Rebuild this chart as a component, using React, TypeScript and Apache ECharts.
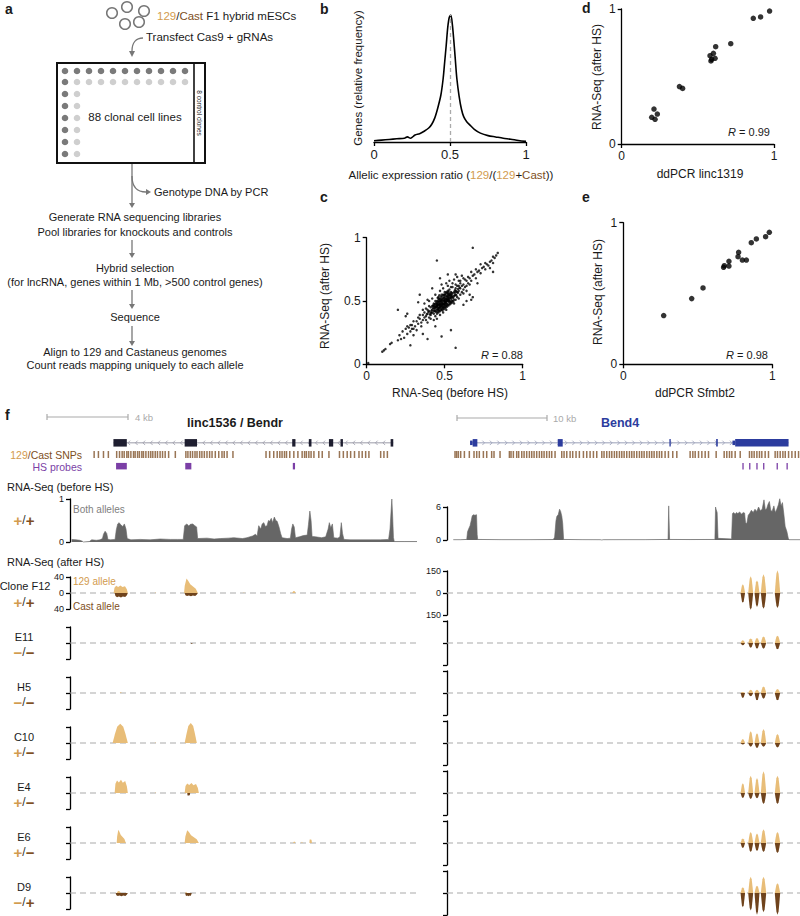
import React, { useEffect, useRef } from 'react';
import * as echarts from 'echarts';

const FONT = '"Liberation Sans", Arial, Helvetica, sans-serif';
const INK = '#1a1a1a';
const TAN = '#D29B4E';
const TAN_FILL = '#E8BD78';
const BROWN = '#7E4E22';
const BROWN_FILL = '#6F431C';
const PURPLE = '#7B3FA6';
const BLUE = '#2C3C9E';
const GREY = '#666666';
const ARROW = '#777777';

// ---------- panel b: allelic ratio density ----------
const densityCurve = [
  [0, 0.01], [0.05, 0.015], [0.1, 0.02], [0.15, 0.025], [0.2, 0.03], [0.22, 0.04], [0.24, 0.03],
  [0.27, 0.055], [0.3, 0.065], [0.33, 0.085], [0.36, 0.11], [0.38, 0.14], [0.4, 0.19], [0.42, 0.27],
  [0.44, 0.37], [0.455, 0.5], [0.465, 0.63], [0.475, 0.76], [0.485, 0.9], [0.495, 0.98], [0.505, 1.0],
  [0.515, 0.93], [0.525, 0.8], [0.535, 0.65], [0.545, 0.5], [0.56, 0.36], [0.575, 0.26], [0.59, 0.2],
  [0.61, 0.16], [0.63, 0.135], [0.66, 0.1], [0.7, 0.07], [0.75, 0.05], [0.8, 0.04], [0.85, 0.03],
  [0.9, 0.022], [0.95, 0.012], [1.0, 0.005],
];

// ---------- panel c: before vs after HS ----------
const scatterCore = [
  [0.42,0.41],[0.43,0.44],[0.44,0.42],[0.45,0.46],[0.46,0.44],[0.47,0.48],[0.48,0.46],[0.49,0.50],[0.50,0.48],[0.51,0.52],
  [0.52,0.50],[0.53,0.54],[0.54,0.52],[0.55,0.56],[0.56,0.54],[0.44,0.47],[0.45,0.43],[0.46,0.49],[0.47,0.45],[0.48,0.51],
  [0.49,0.47],[0.50,0.53],[0.51,0.49],[0.52,0.55],[0.53,0.51],[0.54,0.57],[0.43,0.40],[0.45,0.40],[0.47,0.42],[0.49,0.44],
  [0.51,0.46],[0.53,0.48],[0.55,0.50],[0.41,0.45],[0.43,0.48],[0.45,0.50],[0.47,0.52],[0.49,0.55],[0.51,0.57],[0.53,0.59],
  [0.46,0.41],[0.48,0.43],[0.50,0.45],[0.52,0.47],[0.54,0.49],[0.56,0.51],[0.44,0.50],[0.46,0.53],[0.48,0.55],[0.50,0.57],
  [0.52,0.58],[0.42,0.46],[0.40,0.42],[0.41,0.39],[0.39,0.40],[0.40,0.37],[0.38,0.38],[0.57,0.55],[0.58,0.57],[0.57,0.60],
  [0.55,0.61],[0.59,0.58],[0.58,0.53],[0.56,0.48],[0.49,0.41],[0.51,0.43],[0.47,0.39],[0.44,0.38],[0.46,0.47],[0.48,0.49],
  [0.50,0.51],[0.52,0.53],[0.47,0.50],[0.49,0.52],[0.51,0.54],[0.45,0.48],[0.43,0.46],[0.48,0.47],[0.50,0.49],[0.46,0.45],
  [0.52,0.51],[0.54,0.55],[0.44,0.45],[0.42,0.43],[0.53,0.56],[0.50,0.47],[0.49,0.45],[0.47,0.47],[0.48,0.44],[0.51,0.50],
  [0.46,0.51],[0.45,0.45],[0.55,0.53],[0.57,0.58],[0.43,0.42],[0.41,0.41],[0.44,0.44],[0.52,0.56],[0.50,0.55],[0.53,0.50],
  [0.49,0.48],[0.47,0.46],[0.45,0.47],[0.48,0.52],[0.46,0.43],[0.54,0.53],[0.56,0.57],[0.51,0.48],[0.50,0.50],[0.465,0.475],
  [0.475,0.455],[0.485,0.485],[0.495,0.505],[0.505,0.465],[0.515,0.515],[0.455,0.435],[0.435,0.455],[0.525,0.495],[0.535,0.525],[0.445,0.485],
];
const scatterCoreDense = [
  [0.455,0.465],[0.465,0.445],[0.475,0.495],[0.485,0.455],[0.495,0.475],[0.505,0.495],[0.515,0.475],[0.525,0.515],[0.535,0.495],[0.545,0.535],
  [0.455,0.495],[0.465,0.515],[0.475,0.475],[0.485,0.505],[0.495,0.525],[0.505,0.515],[0.515,0.535],[0.525,0.545],[0.535,0.555],[0.545,0.505],
  [0.435,0.425],[0.445,0.455],[0.425,0.445],[0.415,0.425],[0.445,0.415],[0.455,0.415],[0.465,0.425],[0.475,0.435],[0.485,0.425],[0.495,0.435],
  [0.505,0.445],[0.515,0.455],[0.525,0.465],[0.535,0.475],[0.545,0.485],[0.555,0.525],[0.565,0.545],[0.555,0.495],[0.565,0.565],[0.545,0.565],
  [0.435,0.475],[0.425,0.465],[0.455,0.525],[0.465,0.545],[0.475,0.535],[0.485,0.535],[0.495,0.545],[0.505,0.555],[0.515,0.565],[0.525,0.575],
  [0.485,0.475],[0.495,0.455],[0.505,0.485],[0.475,0.505],[0.465,0.495],[0.455,0.475],[0.515,0.505],[0.525,0.525],[0.535,0.545],[0.545,0.545],
  [0.395,0.415],[0.405,0.395],[0.415,0.405],[0.385,0.395],[0.575,0.575],[0.585,0.595],[0.575,0.545],[0.595,0.605],[0.565,0.585],[0.585,0.565],
];
const scatterMid = [
  [0.36,0.35],[0.35,0.33],[0.37,0.37],[0.34,0.36],[0.33,0.32],[0.32,0.34],[0.36,0.39],[0.38,0.35],[0.35,0.30],[0.31,0.30],
  [0.30,0.28],[0.33,0.37],[0.39,0.43],[0.37,0.41],[0.34,0.39],[0.38,0.44],[0.40,0.46],[0.36,0.43],[0.41,0.36],[0.39,0.33],
  [0.29,0.31],[0.28,0.26],[0.27,0.29],[0.26,0.24],[0.32,0.27],[0.60,0.60],[0.61,0.62],[0.62,0.63],[0.63,0.61],[0.60,0.64],
  [0.64,0.66],[0.65,0.64],[0.66,0.68],[0.63,0.67],[0.62,0.59],[0.59,0.62],[0.61,0.57],[0.58,0.62],[0.67,0.66],[0.68,0.70],
  [0.66,0.63],[0.64,0.62],[0.65,0.69],[0.60,0.66],[0.62,0.68],[0.57,0.63],[0.59,0.66],[0.55,0.64],[0.56,0.67],[0.54,0.61],
  [0.52,0.62],[0.53,0.66],[0.58,0.69],[0.60,0.55],[0.62,0.56],[0.64,0.58],[0.57,0.51],[0.59,0.52],[0.45,0.36],[0.43,0.35],
  [0.42,0.52],[0.40,0.50],[0.44,0.55],[0.47,0.58],[0.49,0.60],[0.51,0.64],[0.48,0.63],
];
const scatterTails = [
  [0.69,0.71],[0.70,0.68],[0.71,0.73],[0.72,0.74],[0.73,0.72],[0.74,0.76],[0.75,0.77],[0.76,0.75],[0.77,0.79],[0.78,0.78],
  [0.79,0.81],[0.80,0.82],[0.81,0.80],[0.82,0.84],[0.83,0.86],[0.84,0.88],[0.81,0.85],[0.76,0.80],[0.79,0.76],[0.70,0.75],
  [0.67,0.73],[0.73,0.79],[0.11,0.11],[0.12,0.12],[0.10,0.10],[0.16,0.17],[0.15,0.16],[0.21,0.23],[0.22,0.20],[0.20,0.19],
  [0.24,0.21],[0.25,0.28],[0.28,0.31],[0.29,0.28],[0.30,0.34],[0.26,0.30],[0.23,0.26],
];
const scatterOutliers = [
  [0.68,0.92],[0.45,0.82],[0.20,0.43],[0.57,0.13],[0.54,0.27],[0.28,0.15],[0.48,0.22],[0.39,0.20],[0.81,0.73],[0.68,0.53],
  [0.67,0.51],[0.01,0.01],[0.34,0.55],[0.39,0.51],[0.26,0.40],[0.37,0.48],[0.33,0.49],[0.52,0.71],[0.47,0.68],[0.62,0.47],
  [0.64,0.50],[0.42,0.60],[0.30,0.23],[0.36,0.24],[0.25,0.38],[0.57,0.71],[0.66,0.55],[0.61,0.70],[0.71,0.64],[0.44,0.30],
];

// ---------- panels d, e: ddPCR vs RNA-Seq ----------
const scatterLinc1319 = [
  [0.212,0.259],[0.197,0.198],[0.219,0.183],[0.234,0.222],[0.379,0.425],[0.400,0.412],[0.580,0.654],[0.586,0.615],
  [0.602,0.672],[0.613,0.635],[0.617,0.721],[0.591,0.627],[0.716,0.743],[0.864,0.931],[0.912,0.941],[0.971,0.985],
];
const scatterSfmbt2 = [
  [0.271,0.344],[0.459,0.464],[0.535,0.539],[0.673,0.685],[0.678,0.696],[0.709,0.694],[0.709,0.727],[0.770,0.760],
  [0.774,0.791],[0.799,0.736],[0.826,0.736],[0.859,0.859],[0.893,0.885],[0.955,0.901],[0.980,0.932],
];

// ---------- panel f: genome tracks (x in kb) ----------
const LEFT_KB = 17.1;
const RIGHT_KB = 39.2;
// [start, end, row, kind]  kind 0 = intron, 1 = exon, 2 = UTR, 3 = probe
const linc1536Model = [
  [2.14,15.93,0,0],[2.14,2.80,0,1],[5.65,6.26,0,1],[10.95,11.11,0,1],[11.77,11.90,0,1],
  [12.76,12.97,0,1],[13.33,13.45,0,1],[15.80,15.93,0,1],
];
const bend4Model = [
  [2.56,37.93,0,0],[2.56,2.85,0,2],[2.85,3.37,0,1],[12.30,12.85,0,1],[24.70,24.81,0,1],
  [29.89,30.07,0,1],[31.70,32.0,0,2],[32.0,37.93,0,1],
];
const linc1536Probes = [[2.27,2.80,2,3],[5.68,5.98,2,3],[10.98,11.09,2,3]];
const bend4Probes = [[32.8,32.92,2,3],[33.55,33.67,2,3],[34.35,34.47,2,3],[35.1,35.22,2,3],[36.6,36.72,2,3],[37.7,37.82,2,3]];
const linc1536Snps = [
  1.19,1.40,1.65,1.89,2.30,2.44,2.57,2.67,2.80,2.88,3.00,3.13,3.21,3.33,3.42,3.54,3.62,3.74,3.87,3.98,4.08,4.20,4.31,4.44,
  4.56,4.69,4.86,5.19,5.71,5.81,5.93,6.04,6.16,6.26,6.39,6.50,6.62,6.75,6.88,7.00,7.16,7.33,7.49,7.60,7.74,8.03,9.66,9.84,
  10.04,10.21,10.34,10.45,10.57,10.67,10.83,11.03,11.23,11.44,11.56,11.65,11.77,11.88,12.02,12.26,12.43,12.76,13.28,13.47,
  13.66,13.83,14.02,14.24,14.40,14.57,14.73,15.31,15.47,15.64,
];
const bend4Snps = [
  0.89,1.07,1.26,1.52,1.93,2.48,3.0,3.3,3.59,4.04,4.41,4.96,5.22,5.89,6.93,7.11,7.37,7.74,7.96,8.30,8.56,8.85,9.15,9.41,
  9.67,9.96,10.26,10.52,10.78,11.07,11.37,11.63,12.0,12.74,13.0,13.30,13.67,13.96,14.33,14.70,15.15,15.52,15.89,16.26,
  16.63,17.19,17.44,17.74,18.04,18.30,18.59,18.85,19.15,19.41,19.67,19.96,20.26,20.52,20.78,21.07,21.37,21.63,21.89,22.19,
  22.48,22.74,23.0,23.30,23.59,23.85,24.22,24.59,25.07,25.52,27.0,27.30,27.56,27.93,28.30,28.67,29.04,29.89,30.78,31.07,
  31.37,31.63,32.0,32.56,33.59,33.85,34.11,34.41,34.70,34.96,35.33,35.70,36.44,36.70,37.0,37.30,37.56,37.93,38.30,38.67,39.04,
];
const linc1536BeforeHS = [
  [0.08,0.06],[0.3,0.05],[0.49,0.04],[0.6,0.02],[0.66,0],[0.95,0.01],[1.07,0.05],[1.3,0.04],[1.48,0.05],[1.6,0.08],[1.65,0.18],
  [1.73,0.25],[1.81,0.2],[1.87,0.06],[2.0,0.05],[2.22,0.06],[2.28,0.28],[2.35,0.42],[2.42,0.45],[2.5,0.4],[2.6,0.36],[2.68,0.42],
  [2.76,0.3],[2.82,0.08],[3.0,0.05],[3.46,0.06],[3.95,0.05],[4.44,0.07],[4.94,0.06],[5.3,0.06],[5.58,0.06],[5.65,0.38],[5.76,0.42],
  [5.85,0.37],[5.93,0.41],[6.05,0.42],[6.15,0.38],[6.24,0.35],[6.29,0.08],[6.75,0.09],[7.1,0.07],[7.41,0.08],[7.8,0.09],[8.07,0.1],
  [8.5,0.08],[8.72,0.1],[9.0,0.14],[9.14,0.18],[9.22,0.14],[9.3,0.38],[9.4,0.3],[9.47,0.42],[9.55,0.45],[9.63,0.36],[9.71,0.38],
  [9.78,0.5],[9.84,0.48],[9.92,0.55],[9.98,0.45],[10.07,0.58],[10.14,0.5],[10.21,0.48],[10.3,0.35],[10.38,0.2],[10.45,0.1],
  [10.7,0.08],[10.86,0.09],[10.92,0.3],[10.98,0.42],[11.05,0.35],[11.11,0.1],[11.3,0.12],[11.5,0.15],[11.69,0.16],[11.75,0.4],
  [11.82,0.72],[11.88,0.5],[11.93,0.13],[12.1,0.12],[12.4,0.1],[12.6,0.12],[12.72,0.3],[12.78,0.45],[12.85,0.33],[12.93,0.42],
  [13.0,0.1],[13.2,0.09],[13.3,0.12],[13.37,0.45],[13.43,0.2],[13.5,0.06],[13.8,0.05],[14.3,0.05],[14.8,0.05],[15.3,0.05],
  [15.7,0.06],[15.77,0.3],[15.82,0.7],[15.86,1.0],[15.9,0.6],[15.94,0.1],[15.98,0.01],[16.5,0.01],[17.1,0.01],
];
const bend4BeforeHS = [
  [0.7,0.05],[1.5,0.05],[2.19,0.1],[2.28,1.5],[2.4,2.0],[2.56,2.6],[2.7,3.6],[2.8,4.4],[2.95,4.6],[3.1,4.5],[3.28,4.6],[3.35,1.0],
  [3.41,0.1],[6,0.06],[9,0.06],[11.8,0.08],[11.95,0.5],[12.1,3.5],[12.2,4.3],[12.35,4.6],[12.5,5.6],[12.62,5.2],[12.75,4.3],
  [12.85,3.0],[12.95,0.1],[15,0.06],[17.0,0.05],[17.2,0],[17.35,0.05],[20,0.06],[22,0.06],[24.55,0.1],[24.62,6.2],[24.72,0.1],
  [27,0.08],[29.75,0.1],[29.82,6.0],[29.9,5.5],[30.0,5.0],[30.1,0.3],[31.6,0.2],[31.7,4.8],[31.85,5.0],[32.0,4.7],[32.15,5.0],
  [32.3,4.8],[32.5,5.1],[32.7,4.7],[32.9,5.0],[33.05,4.9],[33.15,3.2],[33.3,3.0],[33.45,4.5],[33.6,4.8],[33.8,5.4],[34.0,5.0],
  [34.2,5.6],[34.4,5.2],[34.6,6.0],[34.8,5.3],[35.0,5.6],[35.2,7.3],[35.35,5.5],[35.5,5.7],[35.65,6.5],[35.8,7.0],[35.95,5.4],
  [36.1,5.2],[36.3,6.2],[36.45,5.0],[36.6,5.5],[36.8,6.4],[36.95,7.5],[37.1,6.2],[37.25,6.8],[37.4,4.8],[37.55,2.5],[37.75,1.5],
  [37.9,0.3],[38.0,0.05],[39.2,0.05],
];

const clones = ['Clone F12', 'E11', 'H5', 'C10', 'E4', 'E6', 'D9'];
const genotypes = [['+', '+'], ['−', '−'], ['−', '−'], ['+', '−'], ['+', '−'], ['+', '−'], ['−', '+']];
// [start kb, end kb, height, shape]
const linc1536Allele129 = [
  [[2.15,2.85,19,1],[5.62,6.3,36,2],[4.18,4.24,1.5,0],[8.54,8.6,1.5,0],[10.95,11.12,5,0]],
  [],
  [[2.45,2.55,2,0]],
  [[2.1,2.85,48,0],[5.65,6.25,50,0],[4.18,4.24,1.5,0]],
  [[2.2,2.85,33,1],[5.65,6.35,25,1],[4.18,4.24,1.5,0]],
  [[2.3,2.75,33,2],[5.65,6.35,32,2],[11.0,11.1,4,0],[11.4,11.46,3,0],[11.8,11.92,10,1]],
  [[2.3,2.5,5,0],[5.68,5.76,3,0]],
];
const linc1536AlleleCast = [
  [[2.2,2.85,-11,1],[5.65,6.3,-8,1]],
  [[5.96,6.04,-2.5,0]],
  [],
  [],
  [[5.78,5.92,-7,1]],
  [],
  [[2.25,2.85,-8,1],[5.68,6.0,-8,1]],
];
const bend4PeakSpans = [[32.6,33.1],[33.45,34.0],[34.15,34.7],[34.85,35.45],[36.4,37.0]];
const bend4Allele129 = [
  [59,114,86,127,155],[18,30,34,45,50],[7,23,23,45,27],[27,80,66,95,61],[66,118,102,148,118],[30,75,64,93,75],[39,111,50,111,66],
];
const bend4AlleleCast = [
  [-66,-114,-95,-107,-102],[-16,-32,-39,-39,-43],[-34,-23,-50,-39,-50],[-11,-25,-34,-25,-30],[-34,-41,-36,-75,-75],[-34,-61,-55,-61,-68],[-98,-120,-148,-132,-148],
];
const trackMids = [593, 643, 693, 743, 793, 843, 893];

const PROFILES = [
  [[0,0],[0.15,0.45],[0.3,0.85],[0.5,1],[0.7,0.85],[0.85,0.45],[1,0]],
  [[0,0],[0.06,0.7],[0.18,0.95],[0.32,0.8],[0.48,1],[0.62,0.78],[0.8,0.9],[0.93,0.5],[1,0]],
  [[0,0],[0.05,0.5],[0.18,1],[0.3,0.85],[0.45,0.6],[0.65,0.45],[0.85,0.3],[1,0]],
];

function peakRender(color: string) {
  return (params: any, api: any) => {
    const s = api.value(0), e = api.value(1), h = api.value(2), k = api.value(3);
    const pts = PROFILES[k].map(([f, a]) => api.coord([s + f * (e - s), a * h]));
    return { type: 'polygon', shape: { points: pts }, style: { fill: color } };
  };
}

function geneRender(color: string, lineColor: string, dir: number) {
  return (params: any, api: any) => {
    const s = api.coord([api.value(0), api.value(2)]);
    const e = api.coord([api.value(1), api.value(2)]);
    const kind = api.value(3);
    const y = s[1];
    if (kind === 0) {
      const children: any[] = [{ type: 'line', shape: { x1: s[0], y1: y, x2: e[0], y2: y }, style: { stroke: lineColor, lineWidth: 1 } }];
      for (let x = s[0] + 7; x < e[0] - 4; x += 7.5) {
        children.push({ type: 'polyline', shape: { points: [[x - dir * 2.2, y - 2.2], [x, y], [x - dir * 2.2, y + 2.2]] }, style: { stroke: lineColor, fill: 'none', lineWidth: 0.8 } });
      }
      return { type: 'group', children };
    }
    const h = kind === 2 ? 4.5 : kind === 3 ? 6.5 : 7.5;
    return { type: 'rect', shape: { x: s[0], y: y - h / 2, width: Math.max(e[0] - s[0], 1.3), height: h }, style: { fill: color } };
  };
}

const T = (x: number, y: number, text: string, o: any = {}) => ({
  type: 'text', x, y, rotation: o.rot || 0, z: 10,
  style: {
    text, fill: o.fill || INK, fontSize: o.size || 11, fontFamily: FONT, fontWeight: o.weight || 'normal',
    align: o.align || 'left', verticalAlign: 'middle', rich: o.rich,
  },
});
const L = (x1: number, y1: number, x2: number, y2: number, stroke = ARROW, lw = 1.3) => ({
  type: 'line', shape: { x1, y1, x2, y2 }, style: { stroke, lineWidth: lw },
});
const P = (points: number[][], fill = ARROW) => ({ type: 'polygon', shape: { points }, style: { fill } });

const axisLine = { show: true, lineStyle: { color: '#000', width: 1.3 } };
const axisTick = { show: true, length: 4, lineStyle: { color: '#000', width: 1.3 } };
const tickLabel = { fontSize: 12, color: INK, margin: 6, fontFamily: FONT };

export default function App() {
  const ref = useRef<HTMLDivElement>(null);
  useEffect(() => {
    const chart = echarts.init(ref.current!, null, { renderer: 'svg' });
    const grids: any[] = [];
    const xAxes: any[] = [];
    const yAxes: any[] = [];
    const series: any[] = [];
    const addGrid = (g: any, xa: any, ya: any) => {
      grids.push({ ...g, containLabel: false, outerBoundsMode: 'none' });
      const i = grids.length - 1;
      xAxes.push({ gridIndex: i, type: 'value', splitLine: { show: false }, ...xa });
      yAxes.push({ gridIndex: i, type: 'value', splitLine: { show: false }, ...ya });
      return i;
    };
    const scatterAxis = (interval: number) => ({ min: 0, max: 1, interval, axisLine, axisTick, axisLabel: tickLabel });

    // b
    const gb = addGrid({ left: 374, top: 15, width: 152, height: 127 },
      { min: 0, max: 1, interval: 0.5, axisLine, axisTick, axisLabel: { ...tickLabel, fontSize: 13 } },
      { min: 0, max: 1, show: false });
    series.push({
      type: 'line', xAxisIndex: gb, yAxisIndex: gb, data: densityCurve, showSymbol: false, smooth: 0.3,
      lineStyle: { color: '#000', width: 1.6 },
      markLine: { silent: true, symbol: ['none', 'none'], label: { show: false }, lineStyle: { color: '#aaa', type: [4, 3], width: 1.3 }, data: [{ xAxis: 0.5 }] },
    });
    // c
    const gc = addGrid({ left: 366.7, top: 237.7, width: 156, height: 126.6 }, scatterAxis(0.5), scatterAxis(0.5));
    series.push({
      type: 'scatter', xAxisIndex: gc, yAxisIndex: gc, symbolSize: 2.5, itemStyle: { color: '#000' },
      data: [...scatterCore, ...scatterCoreDense, ...scatterMid, ...scatterTails, ...scatterOutliers],
    });
    // d
    const gd = addGrid({ left: 621.7, top: 9, width: 152.3, height: 135 }, scatterAxis(1), scatterAxis(1));
    series.push({ type: 'scatter', xAxisIndex: gd, yAxisIndex: gd, symbolSize: 5.5, itemStyle: { color: '#000' }, data: scatterLinc1319 });
    // e
    const ge = addGrid({ left: 623.3, top: 222.7, width: 149, height: 141.6 }, scatterAxis(1), scatterAxis(1));
    series.push({ type: 'scatter', xAxisIndex: ge, yAxisIndex: ge, symbolSize: 5.5, itemStyle: { color: '#000' }, data: scatterSfmbt2 });

    // f annotations
    const annot = (left: number, width: number, maxKb: number, model: any[], probes: any[], snps: number[], color: string, lineColor: string, dir: number) => {
      const g = addGrid({ left, top: 437, width, height: 35 }, { min: 0, max: maxKb, show: false }, { min: -0.5, max: 2.5, inverse: true, show: false });
      series.push({ type: 'custom', xAxisIndex: g, yAxisIndex: g, renderItem: geneRender(color, lineColor, dir), encode: { x: [0, 1], y: 2 }, data: model });
      series.push({ type: 'custom', xAxisIndex: g, yAxisIndex: g, renderItem: geneRender(PURPLE, PURPLE, dir), encode: { x: [0, 1], y: 2 }, data: probes });
      series.push({ type: 'scatter', xAxisIndex: g, yAxisIndex: g, symbol: 'rect', symbolSize: [1.5, 7], itemStyle: { color: '#7F532B' }, data: snps.map((s) => [s, 1]) });
    };
    annot(70, 347, LEFT_KB, linc1536Model, linc1536Probes, linc1536Snps, '#1e1e30', '#9a9aa8', -1);
    annot(447, 353, RIGHT_KB, bend4Model, bend4Probes, bend4Snps, BLUE, '#9aa0b8', 1);

    const bracketY = (min: number, max: number, interval: number, labels: boolean) => ({
      min, max, interval, axisLine, axisTick,
      axisLabel: { show: labels, fontSize: 9, color: INK, margin: 6, fontFamily: FONT, formatter: (v: number) => String(Math.abs(v)) },
    });
    // before HS
    const gl = addGrid({ left: 70, top: 499, width: 347, height: 43 }, { min: 0, max: LEFT_KB, show: false }, bracketY(0, 1, 1, true));
    series.push({ type: 'line', xAxisIndex: gl, yAxisIndex: gl, data: linc1536BeforeHS, showSymbol: false, clip: false, lineStyle: { color: GREY, width: 0.6 }, areaStyle: { color: GREY, opacity: 1 } });
    const gr = addGrid({ left: 447, top: 507, width: 353, height: 33 }, { min: 0, max: RIGHT_KB, show: false }, bracketY(0, 6, 6, true));
    series.push({ type: 'line', xAxisIndex: gr, yAxisIndex: gr, data: bend4BeforeHS, showSymbol: false, clip: false, lineStyle: { color: GREY, width: 0.6 }, areaStyle: { color: GREY, opacity: 1 } });

    // after HS clone tracks
    trackMids.forEach((mid, i) => {
      const g1 = addGrid({ left: 70, top: mid - 16, width: 347, height: 32 }, { min: 0, max: LEFT_KB, show: false }, bracketY(-40, 40, 40, i === 0));
      series.push({ type: 'line', xAxisIndex: g1, yAxisIndex: g1, data: [[0, 0], [LEFT_KB, 0]], showSymbol: false, silent: true, z: 1, lineStyle: { color: '#aaa', type: [6, 4], width: 1.2 } });
      series.push({ type: 'custom', xAxisIndex: g1, yAxisIndex: g1, z: 3, renderItem: peakRender(TAN_FILL), encode: { x: [0, 1], y: 2 }, data: linc1536Allele129[i] });
      series.push({ type: 'custom', xAxisIndex: g1, yAxisIndex: g1, z: 3, renderItem: peakRender(BROWN_FILL), encode: { x: [0, 1], y: 2 }, data: linc1536AlleleCast[i] });

      const g2 = addGrid({ left: 447, top: mid - 22, width: 353, height: 44 }, { min: 0, max: RIGHT_KB, show: false }, bracketY(-150, 150, 150, i === 0));
      series.push({ type: 'line', xAxisIndex: g2, yAxisIndex: g2, data: [[0, 0], [RIGHT_KB, 0]], showSymbol: false, silent: true, z: 1, lineStyle: { color: '#aaa', type: [6, 4], width: 1.2 } });
      series.push({ type: 'custom', xAxisIndex: g2, yAxisIndex: g2, z: 3, renderItem: peakRender(TAN_FILL), encode: { x: [0, 1], y: 2 },
        data: bend4PeakSpans.map((sp, k) => [sp[0], sp[1], bend4Allele129[i][k], 0]) });
      series.push({ type: 'custom', xAxisIndex: g2, yAxisIndex: g2, z: 3, renderItem: peakRender(BROWN_FILL), encode: { x: [0, 1], y: 2 },
        data: bend4PeakSpans.map((sp, k) => [sp[0], sp[1], bend4AlleleCast[i][k], 0]) });
    });

    // ---------- graphics ----------
    const gfx: any[] = [];
    const labelFont = { size: 14, weight: 'bold' };
    gfx.push(T(5, 9, 'a', labelFont), T(320, 9, 'b', labelFont), T(320, 197, 'c', labelFont),
      T(582, 8, 'd', labelFont), T(582, 197, 'e', labelFont), T(5, 415, 'f', labelFont));

    // panel a flowchart
    [[112, 13], [127, 7], [144, 11], [125, 24], [139, 22]].forEach(([cx, cy]) =>
      gfx.push({ type: 'circle', shape: { cx, cy, r: 5.3 }, style: { fill: 'none', stroke: ARROW, lineWidth: 1.5 } }));
    const richA = {
      t: { fill: TAN, fontSize: 11.5, fontFamily: FONT },
      c: { fill: BROWN, fontSize: 11.5, fontFamily: FONT },
      k: { fill: INK, fontSize: 11.5, fontFamily: FONT },
    };
    gfx.push(T(157, 16, '{t|129}{k|/}{c|Cast}{k| F1 hybrid mESCs}', { rich: richA }));
    gfx.push(T(146, 37, 'Transfect Cas9 + gRNAs', { size: 11.5 }));
    gfx.push({ type: 'bezierCurve', shape: { x1: 143, y1: 38, cpx1: 136, cpy1: 38, cpx2: 132, cpy2: 43, x2: 132, y2: 51 }, style: { stroke: ARROW, fill: 'none', lineWidth: 1.3 } });
    gfx.push(P([[129, 51], [135, 51], [132, 57]]));
    gfx.push({ type: 'rect', shape: { x: 57, y: 63, width: 148, height: 100 }, style: { fill: 'none', stroke: '#111', lineWidth: 2 } });
    gfx.push(L(194, 63, 194, 163, '#111', 1.6));
    const rowsY = [71, 82, 94, 106, 118, 130, 142, 154];
    rowsY.forEach((y, r) => {
      const n = r === 0 ? 11 : r === 1 ? 11 : 2;
      for (let c = 0; c < n; c++) {
        const dark = r === 0 || c === 0;
        gfx.push({ type: 'circle', shape: { cx: 65 + 12 * c, cy: y, r: 3.3 }, style: { fill: dark ? '#7a7a7a' : '#cfcfcf' } });
      }
    });
    gfx.push(T(135, 117, '88 clonal cell lines', { align: 'center', size: 11.5 }));
    gfx.push(T(199.5, 113, '8 control clones', { align: 'center', size: 6.5, rot: -Math.PI / 2 }));
    gfx.push(L(132, 164, 132, 203), P([[129, 203], [135, 203], [132, 208]]));
    gfx.push({ type: 'bezierCurve', shape: { x1: 132, y1: 176, cpx1: 132, cpy1: 187, cpx2: 137, cpy2: 192, x2: 146, y2: 192 }, style: { stroke: ARROW, fill: 'none', lineWidth: 1.3 } });
    gfx.push(P([[146, 189], [146, 195], [151, 192]]));
    gfx.push(T(154, 192, 'Genotype DNA by PCR'));
    gfx.push(T(135, 217, 'Generate RNA sequencing libraries', { align: 'center' }));
    gfx.push(T(135, 232, 'Pool libraries for knockouts and controls', { align: 'center' }));
    gfx.push(L(132, 240, 132, 253), P([[129, 253], [135, 253], [132, 258]]));
    gfx.push(T(135, 268, 'Hybrid selection', { align: 'center' }));
    gfx.push(T(135, 282, '(for lncRNA, genes within 1 Mb, >500 control genes)', { align: 'center' }));
    gfx.push(L(132, 290, 132, 304), P([[129, 304], [135, 304], [132, 309]]));
    gfx.push(T(135, 317, 'Sequence', { align: 'center' }));
    gfx.push(L(132, 326, 132, 341), P([[129, 341], [135, 341], [132, 346]]));
    gfx.push(T(135, 352, 'Align to 129 and Castaneus genomes', { align: 'center' }));
    gfx.push(T(135, 365, 'Count reads mapping uniquely to each allele', { align: 'center' }));

    // axis titles b-e
    const richB = {
      k: { fill: INK, fontSize: 11.5, fontFamily: FONT },
      t: { fill: TAN, fontSize: 11.5, fontFamily: FONT },
      c: { fill: BROWN, fontSize: 11.5, fontFamily: FONT },
    };
    gfx.push(T(451, 175, '{k|Allelic expression ratio (}{t|129}{k|/(}{t|129}{k|+}{c|Cast}{k|))}', { align: 'center', rich: richB }));
    gfx.push(T(358, 78, 'Genes (relative frequency)', { align: 'center', size: 11.5, rot: Math.PI / 2 }));
    gfx.push(T(325, 296, 'RNA-Seq (after HS)', { align: 'center', size: 12, rot: Math.PI / 2 }));
    gfx.push(T(450, 393, 'RNA-Seq (before HS)', { align: 'center', size: 12 }));
    gfx.push(T(597, 77, 'RNA-Seq (after HS)', { align: 'center', size: 12, rot: Math.PI / 2 }));
    gfx.push(T(700, 174, 'ddPCR linc1319', { align: 'center', size: 12 }));
    gfx.push(T(598, 292, 'RNA-Seq (after HS)', { align: 'center', size: 12, rot: Math.PI / 2 }));
    gfx.push(T(695, 393, 'ddPCR Sfmbt2', { align: 'center', size: 12 }));
    const richR = { i: { fill: INK, fontSize: 11, fontStyle: 'italic', fontFamily: FONT }, n: { fill: INK, fontSize: 11, fontFamily: FONT } };
    gfx.push(T(523, 355, '{i|R}{n| = 0.88}', { align: 'right', rich: richR }));
    gfx.push(T(770, 132, '{i|R}{n| = 0.99}', { align: 'right', rich: richR }));
    gfx.push(T(768, 355, '{i|R}{n| = 0.98}', { align: 'right', rich: richR }));

    // panel f labels
    gfx.push(L(47, 417, 128, 417, '#aaa', 1.2), L(47, 414, 47, 420, '#aaa', 1.2), L(128, 414, 128, 420, '#aaa', 1.2));
    gfx.push(T(135, 417, '4 kb', { fill: '#aaa', size: 9.5 }));
    gfx.push(L(457, 418, 547, 418, '#aaa', 1.2), L(457, 415, 457, 421, '#aaa', 1.2), L(547, 415, 547, 421, '#aaa', 1.2));
    gfx.push(T(553, 418, '10 kb', { fill: '#aaa', size: 9.5 }));
    gfx.push(T(235, 423, 'linc1536 / Bendr', { align: 'center', size: 12.5, weight: 'bold' }));
    gfx.push(T(620, 423, 'Bend4', { align: 'center', size: 12.5, weight: 'bold', fill: BLUE }));
    gfx.push(T(82, 455, '{t|129}{c|/Cast SNPs}', {
      align: 'right', rich: { t: { fill: TAN, fontSize: 10.5, fontFamily: FONT }, c: { fill: BROWN, fontSize: 10.5, fontFamily: FONT } },
    }));
    gfx.push(T(82, 467, 'HS probes', { align: 'right', size: 10.5, fill: PURPLE }));
    gfx.push(T(7, 487, 'RNA-Seq (before HS)', { size: 11 }));
    gfx.push(T(73, 509, 'Both alleles', { size: 10, fill: '#808080' }));
    gfx.push(T(7, 562, 'RNA-Seq (after HS)', { size: 11 }));
    gfx.push(T(73, 581, '129 allele', { size: 10, fill: TAN }));
    gfx.push(T(73, 606, 'Cast allele', { size: 10, fill: BROWN }));
    const geno = (a: string, b: string) => `{a|${a}}{s|/}{b|${b}}`;
    const richG = {
      a: { fill: TAN, fontSize: 15, fontWeight: 'bold', fontFamily: FONT, lineHeight: 14 },
      s: { fill: '#333', fontSize: 12, fontFamily: FONT, lineHeight: 14 },
      b: { fill: BROWN, fontSize: 15, fontWeight: 'bold', fontFamily: FONT, lineHeight: 14 },
    };
    gfx.push(T(24, 520, geno('+', '+'), { align: 'center', rich: richG }));
    trackMids.forEach((mid, i) => {
      const ny = i === 0 ? 586 : mid - 6;
      gfx.push(T(i === 0 ? 25 : 24, ny, clones[i], { align: 'center', size: 11 }));
      gfx.push(T(24, mid + 9, geno(genotypes[i][0], genotypes[i][1]), { align: 'center', rich: richG }));
    });

    chart.setOption({
      animation: false,
      backgroundColor: '#fff',
      textStyle: { fontFamily: FONT },
      grid: grids,
      xAxis: xAxes,
      yAxis: yAxes,
      series,
      graphic: { elements: gfx },
    });
    return () => chart.dispose();
  }, []);
  return <div ref={ref} style={{ position: 'absolute', left: 0, top: 0, width: 800, height: 916, background: '#fff' }} />;
}
